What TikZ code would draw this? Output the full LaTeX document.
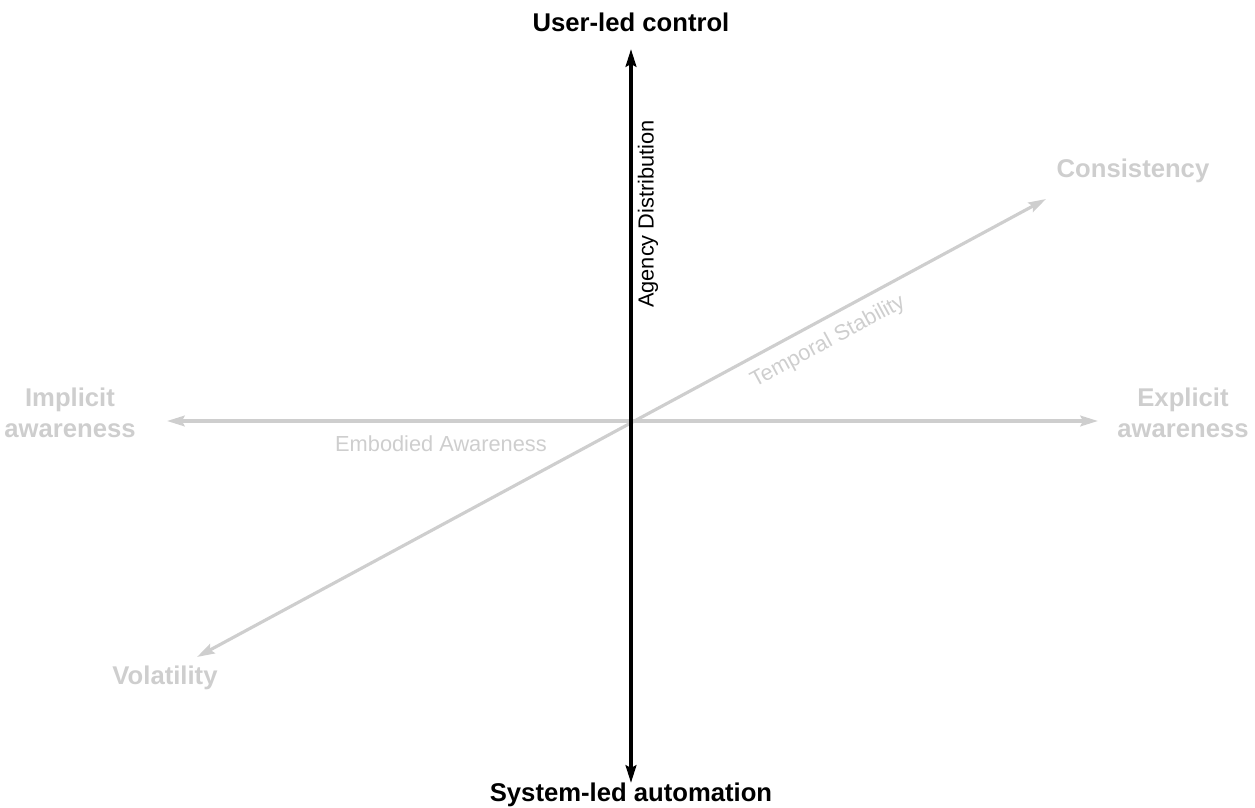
\documentclass[tikz,border=0pt]{standalone}
\usepackage{fontspec}
\setmainfont{Liberation Sans}
\usetikzlibrary{arrows.meta,positioning}
\definecolor{axisgray}{RGB}{206,206,206}

\begin{document}
\begin{tikzpicture}[>={Stealth[length=10pt,width=6pt,inset=1.5pt]},
  pole/.style={font=\fontsize{14.6}{17.6}\selectfont\bfseries, align=center},
  axisname/.style={font=\fontsize{12.4}{15}\selectfont},
  grayaxis/.style={<->, line width=1.8pt, axisgray}]
\useasboundingbox (-12.62,-7.74) rectangle (12.48,8.42);
% axis ends
\coordinate (top) at (0,7.44);
\coordinate (bottom) at (0,-7.24);
\coordinate (left) at (-9.28,0);
\coordinate (right) at (9.34,0);
\coordinate (lowleft) at (-8.68,-4.72);
\coordinate (upright) at (8.30,4.44);
% gray axes first, black axis on top
\draw[grayaxis] (left) -- (right);
\draw[grayaxis] (lowleft) -- (upright);
\draw[<->, line width=2.2pt, black] (bottom) -- (top);
% pole labels
\node[pole] (userled) at (0,7.98) {User-led control};
\node[pole] (systemled) at (0,-7.48) {System-led automation};
\node[pole, axisgray] (consistency) at (10.04,5.0) {Consistency};
\node[pole, axisgray] (volatility) at (-9.32,-5.14) {Volatility};
\node[pole, axisgray] (implicit) at (-11.22,0.16) {Implicit\\awareness};
\node[pole, axisgray] (explicit) at (11.04,0.16) {Explicit\\awareness};
% axis names
\node[axisname, rotate=90] (agency) at (0.34,4.14) {Agency Distribution};
\node[axisname, axisgray] (embodied) at (-3.8,-0.46) {Embodied Awareness};
\node[axisname, axisgray, rotate=28.5] (temporal) at (3.94,1.58) {Temporal Stability};
\end{tikzpicture}
\end{document}
